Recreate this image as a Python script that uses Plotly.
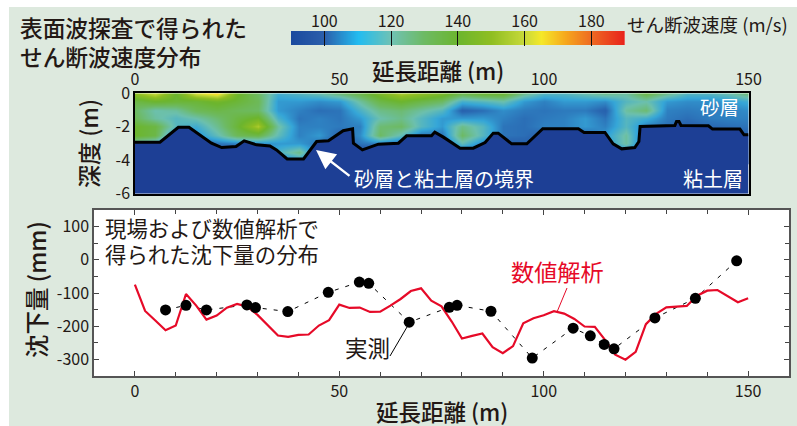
import plotly.graph_objects as go

W, H = 797, 426
FONT = "Noto Sans CJK JP"
FONT_M = "Noto Sans CJK JP Medium, Noto Sans CJK JP"
INK = "#231815"
PANEL = "#dde9de"
RED = "#e60a28"
SOIL = "#1d3f95"


def px(v):
    return v / W


def py(v):
    return 1 - v / H


# --- velocity section ---
section_x = list(range(0, 155, 5))
section_depth = [0, -0.5, -1, -1.5, -2, -2.5, -3, -3.5, -4]
vs_0 = [150, 160, 140, 162, 168, 142, 130, 113, 116, 120, 128, 135, 145, 155, 150, 145, 135, 140, 140, 125, 116, 116, 120, 125, 122, 135, 125, 116, 116, 120, 128]
vs_05 = [135, 140, 138, 138, 142, 138, 132, 108, 108, 106, 108, 122, 135, 140, 135, 130, 113, 116, 120, 108, 104, 108, 108, 106, 116, 120, 108, 106, 106, 108, 112]
vs_10 = [130, 120, 122, 132, 135, 132, 130, 108, 104, 101, 102, 114, 125, 128, 122, 116, 98, 101, 106, 103, 102, 103, 103, 98, 122, 128, 104, 103, 104, 104, 106]
vs_15 = [132, 122, 116, 120, 128, 136, 142, 114, 102, 104, 102, 108, 120, 125, 116, 108, 108, 108, 104, 101, 103, 104, 108, 102, 116, 112, 103, 101, 103, 104, 104]
vs_20 = [140, 136, 116, 112, 124, 138, 155, 122, 104, 104, 103, 104, 128, 130, 116, 108, 125, 116, 102, 101, 104, 104, 108, 104, 116, 104, 101, 98, 100, 101, 102]
vs_25 = [140, 135, 102, 106, 118, 132, 135, 118, 104, 108, 98, 106, 130, 118, 102, 102, 130, 116, 102, 101, 98, 98, 98, 108, 122, 98, 98, 98, 98, 98, 98]
vs_30 = [118, 112, 95, 98, 102, 104, 106, 108, 108, 102, 95, 102, 104, 98, 95, 98, 118, 104, 98, 98, 95, 95, 95, 106, 122, 98, 95, 95, 95, 95, 95]
vs_35 = [95, 95, 92, 92, 95, 95, 98, 114, 125, 98, 92, 92, 92, 92, 92, 92, 98, 95, 92, 92, 92, 92, 92, 95, 104, 95, 92, 92, 92, 92, 92]
vs_40 = [92, 92, 92, 92, 92, 92, 92, 98, 108, 95, 92, 92, 92, 92, 92, 92, 92, 92, 92, 92, 92, 92, 92, 92, 95, 92, 92, 92, 92, 92, 92]
velocity = [vs_0, vs_05, vs_10, vs_15, vs_20, vs_25, vs_30, vs_35, vs_40]

# --- sand / clay boundary ---
boundary_x = [0, 6.1, 10.6, 13.2, 18.7, 21.2, 24.7, 26.7, 29.7, 33, 34.6, 37.2, 41.2, 44.4, 47.3, 50.9, 53.2, 53.4, 55.6, 59.5, 64.4,
              66.4, 72.5, 73.3, 75.4, 79.5, 82.7, 85.6, 87.6, 88.8, 92.1, 95.8, 99.7, 108.4, 109.8, 114.9, 116.9, 119, 122.2, 123.2, 123.5,
              132, 132.4, 133, 133.5, 140.2, 141.2, 147.9, 148.9, 150]
boundary_d = [-2.92, -2.92, -2.03, -2.03, -2.98, -3.24, -3.18, -2.84, -3.08, -3.15, -3.38, -3.92, -3.92, -2.88, -2.84, -2.24, -2.12, -2.98, -3.38, -3.04, -2.98,
              -2.54, -2.54, -2.32, -2.62, -3.28, -3.28, -2.94, -2.38, -2.38, -3.02, -3.02, -2.12, -2.12, -2.34, -2.34, -3.02, -3.32, -3.24, -2.88, -1.98,
              -1.92, -1.68, -1.68, -1.92, -1.94, -2.14, -2.14, -2.48, -2.48]
section_base_x = [0, 150]
section_base_d = [-6, -6]

# --- settlement ---
model_x = [0, 2.5, 5, 7.5, 10, 12.5, 15, 17.5, 20, 22.5, 25, 27.5, 30, 32.5, 35, 37.5, 40, 42.5, 45, 47.5, 50, 52.5, 55, 57.5, 60, 62.5, 65,
           67.5, 70, 72.5, 75, 77.5, 80, 82.5, 85, 87.5, 90, 92.5, 95, 97.5, 100, 102.5, 105, 107.5, 110, 112.5, 115, 117.5, 120, 122.5, 125,
           127.5, 130, 132.5, 135, 137.5, 140, 142.5, 145, 147.5, 150]
model_mm = [-75, -154, -183, -212, -198, -103, -138, -180, -168, -144, -133, -141, -166, -196, -228, -232, -226, -225, -198, -182, -135, -145, -144, -157, -156, -138, -118,
            -94, -86, -123, -140, -186, -237, -229, -222, -263, -281, -260, -191, -176, -167, -155, -162, -178, -201, -202, -241, -286, -301, -277, -194,
            -163, -143, -141, -139, -108, -93, -91, -109, -128, -116]
meas_x = [7.5, 12.5, 17.5, 27.4, 29.5, 37.4, 47.3, 54.9, 57.2, 67.1, 76.9, 78.8, 87.1, 97.2, 107.2, 111.4, 114.8, 117.2, 127.2, 137.1, 147.2]
meas_mm = [-151, -137, -151, -136, -144, -156, -98, -67, -71, -188, -143, -137, -155, -296, -206, -229, -255, -268, -175, -116, -3]

# --- ticks ---
cb_values = [90, 100, 110, 120, 130, 140, 150, 160, 165, 172, 180, 190]
cb_row = [0, 1]
cb_ticks = [100, 120, 140, 160, 180]
dist_ticks = [0, 50, 100, 150]
depth_ticks = [0, -2, -4, -6]
depth_labels = ["0", "-2", "-4", "-6"]
settle_ticks = [100, 0, -100, -200, -300]
settle_labels = ["100", "0", "-100", "-200", "-300"]

colorscale = [
    [0.00, "#1b4a9e"], [0.10, "#2b5fab"], [0.20, "#22bcf0"], [0.30, "#70c2b4"], [0.40, "#6dba63"],
    [0.50, "#6cb52e"], [0.60, "#8fbe22"], [0.70, "#c9da3a"], [0.75, "#f5e829"], [0.82, "#f6a81c"],
    [0.90, "#ee6a22"], [1.00, "#e8211b"],
]
section_colorscale = [
    [0.00, "#1b4a9e"], [0.10, "#2a68b2"], [0.20, "#35a6d8"], [0.30, "#6cc0ae"], [0.40, "#6dba63"],
    [0.50, "#6cb52e"], [0.60, "#8fbe22"], [0.70, "#c9da3a"], [0.75, "#f5e829"], [0.82, "#f6a81c"],
    [0.90, "#ee6a22"], [1.00, "#e8211b"],
]

fig = go.Figure()
fig.add_trace(go.Heatmap(x=section_x, y=section_depth, z=velocity, zmin=90, zmax=190, zsmooth="best",
                         colorscale=section_colorscale, xaxis="x2", yaxis="y2", showscale=False))
fig.add_trace(go.Scatter(x=section_base_x, y=section_base_d, mode="lines", line=dict(width=0),
                         xaxis="x2", yaxis="y2", showlegend=False, hoverinfo="skip"))
fig.add_trace(go.Scatter(x=boundary_x, y=boundary_d, mode="lines", line=dict(color="#000", width=3),
                         fill="tonexty", fillcolor=SOIL, xaxis="x2", yaxis="y2", showlegend=False))
fig.add_trace(go.Heatmap(x=cb_values, y=cb_row, z=[cb_values, cb_values], zmin=90, zmax=190, zsmooth="best",
                         colorscale=colorscale, xaxis="x3", yaxis="y3", showscale=False))
fig.add_trace(go.Scatter(x=meas_x, y=meas_mm, mode="lines", line=dict(color="#000", width=1, dash="4px,7px"),
                         showlegend=False))
fig.add_trace(go.Scatter(x=model_x, y=model_mm, mode="lines", line=dict(color=RED, width=2.2),
                         showlegend=False))
fig.add_trace(go.Scatter(x=meas_x, y=meas_mm, mode="markers", marker=dict(color="#000", size=11),
                         showlegend=False))

tickfont = dict(family=FONT, size=16, color=INK)
fig.update_layout(
    width=W, height=H, margin=dict(l=0, r=0, t=0, b=0, pad=0, autoexpand=False),
    paper_bgcolor=PANEL, plot_bgcolor="white", showlegend=False,
    font=dict(family=FONT, color=INK),
    xaxis=dict(domain=[px(94), px(789)], range=[-10, 160], tickmode="array", tickvals=dist_ticks,
               ticks="inside", ticklen=5, tickcolor="#444", tickwidth=1, showgrid=False, zeroline=False,
               showline=True, linecolor="#555", linewidth=1.5, mirror="ticks",
               minor=dict(dtick=10, tick0=0, ticks="inside", ticklen=4, tickcolor="#444", tickwidth=1, showgrid=False),
               tickfont=tickfont, anchor="y"),
    yaxis=dict(domain=[py(376), py(210)], range=[-350, 150], tickmode="array", tickvals=settle_ticks,
               ticktext=settle_labels, ticks="inside", ticklen=5, tickcolor="#444", tickwidth=1,
               showgrid=False, zeroline=False, showline=True, linecolor="#555", linewidth=1.5, mirror="ticks",
               minor=dict(dtick=50, tick0=0, ticks="inside", ticklen=4, tickcolor="#444", tickwidth=1, showgrid=False),
               tickfont=tickfont, anchor="x"),
    xaxis2=dict(domain=[px(135), px(748.5)], range=[0, 150], side="top", tickmode="array", tickvals=dist_ticks,
                ticks="", showgrid=False, zeroline=False, showline=True, linecolor="#000", linewidth=1.5,
                mirror=True, tickfont=tickfont, anchor="y2", layer="above traces"),
    yaxis2=dict(domain=[py(193.7), py(93.3)], range=[-6, 0], tickmode="array", tickvals=depth_ticks,
                ticktext=depth_labels, ticks="", showgrid=False, zeroline=False, showline=True,
                linecolor="#000", linewidth=1.5, mirror=True, tickfont=tickfont, anchor="x2", layer="above traces"),
    xaxis3=dict(domain=[px(291), px(624.7)], range=[90, 190], side="top", tickmode="array", tickvals=cb_ticks,
                ticks="inside", ticklen=15, tickwidth=1.3, tickcolor="#111", showgrid=False, zeroline=False,
                showline=False, tickfont=tickfont, anchor="y3", layer="above traces"),
    yaxis3=dict(domain=[py(45), py(31)], range=[0, 1], showticklabels=False, ticks="", showgrid=False,
                zeroline=False, showline=False, anchor="x3"),
    shapes=[
        dict(type="rect", xref="paper", yref="paper", x0=0, x1=1, y0=py(7), y1=1, fillcolor="white", line_width=0, layer="below"),
        dict(type="rect", xref="paper", yref="paper", x0=0, x1=px(9), y0=0, y1=1, fillcolor="white", line_width=0, layer="below"),
        dict(type="line", xref="paper", yref="paper", x0=px(390), y0=py(356), x1=px(407), y1=py(327), line=dict(color="#000", width=1)),
        dict(type="line", xref="paper", yref="paper", x0=px(567), y0=py(288), x1=px(557), y1=py(312), line=dict(color=RED, width=1)),
    ],
)


def label(text, x, y, size, color=INK, anchor="left", angle=0, font=FONT):
    fig.add_annotation(text=text, xref="paper", yref="paper", x=px(x), y=py(y), xanchor=anchor,
                       yanchor="middle", showarrow=False, textangle=angle, borderpad=0,
                       font=dict(family=font, size=size, color=color))


label("表面波探査で得られた", 19, 27, 22.7, font=FONT_M)
label("せん断波速度分布", 19, 56, 22.7, font=FONT_M)
label("せん断波速度 (m/s)", 625.5, 24, 18.5)
label("延長距離 (m)", 437.5, 70, 22.5, anchor="center", font=FONT_M)
label("延長距離 (m)", 442, 411, 22.5, anchor="center", font=FONT_M)
label("深度 (m)", 88, 144, 23, anchor="center", angle=-90, font=FONT_M)
label("沈下量 (mm)", 36, 290, 23.5, anchor="center", angle=-90, font=FONT_M)
label("現場および数値解析で", 104, 228, 21.4)
label("得られた沈下量の分布", 104, 254, 21.4)
label("実測", 343.5, 347, 22.5)
label("数値解析", 509.5, 271, 23.2, color=RED)
label("砂層と粘土層の境界", 352.5, 178, 20, color="white")
label("砂層", 698.5, 107, 19.5, color="white")
label("粘土層", 681.5, 178, 20, color="white")

fig.add_annotation(x=px(316), y=py(150), xref="paper", yref="paper", ax=35, ay=27, axref="pixel", ayref="pixel",
                   text="", showarrow=True, arrowhead=2, arrowsize=1.6, arrowwidth=2.4, arrowcolor="white")

fig.write_html("out.html", config=dict(displayModeBar=False),
               post_script="document.body.style.margin='0';document.body.style.overflow='hidden';")
